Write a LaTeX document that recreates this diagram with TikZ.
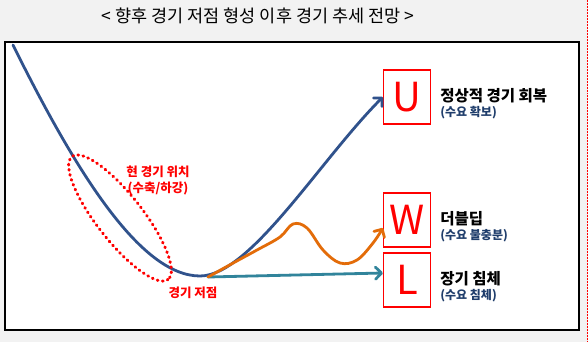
\documentclass[tikz,border=0pt]{standalone}
\usepackage{fontspec}
\setmainfont{Noto Sans CJK KR}
\usepackage{tikz}
\usetikzlibrary{arrows.meta,positioning,calc}
\definecolor{bggray}{HTML}{F2F2F2}
\definecolor{curveblue}{HTML}{30528C}
\definecolor{curveorange}{HTML}{E36C09}
\definecolor{curveteal}{HTML}{31849B}
\definecolor{subblue}{HTML}{1F3D6B}

\begin{document}
\begin{tikzpicture}[x=1pt,y=-1pt,
  letterbox/.style={draw=red,line width=1.2pt,minimum width=47pt,minimum height=54pt,
                    inner sep=0pt,text=red,font=\fontsize{40}{40}\selectfont},
  mainlbl/.style={font=\fontsize{15.5}{17}\selectfont\bfseries,anchor=west,inner sep=0pt},
  sublbl/.style={font=\fontsize{12}{14}\selectfont\bfseries,text=subblue,anchor=north west,inner sep=0pt},
  redlbl/.style={font=\fontsize{12.5}{16}\selectfont\bfseries,text=red,align=center,inner sep=0pt},
  trend/.style={line width=2.8pt,line cap=round,-{Straight Barb[length=6pt,width=12pt,round]}},
  dotring/.style={red,line width=3pt,line cap=round,dash pattern=on 0.8pt off 4.4pt}]

  \fill[bggray] (0,0) rectangle (588,342);
  \useasboundingbox (0,0) rectangle (588,342);
  \draw[red,densely dotted,line width=0.5pt] (587,0) -- (587,342);
  \draw[fill=white,line width=1.2pt] (5,42) rectangle (579,330);
  \node[font=\fontsize{17.5}{20}\selectfont] (title) at (258,16) {< 향후 경기 저점 형성 이후 경기 추세 전망 >};

  % scenario boxes and their labels
  \foreach \nm/\y/\lab/\sub in {U/97/{정상적 경기 회복}/{(수요 확보)},
                                W/220/{더블딥}/{(수요 불충분)},
                                L/280/{장기 침체}/{(수요 침체)}}{
    \node[letterbox] (box\nm) at (407,\y) {\nm};
    \node[mainlbl] (lbl\nm) at ($(box\nm.east)+(9,-1.5)$) {\lab};
    \node[sublbl] (sub\nm) at ($(lbl\nm.south west)+(0,3.5)$) {\sub};
  }

  \coordinate (topstart) at (13,45);
  \coordinate (trough) at (208,277);
  \coordinate (wtip) at ($(boxW.west)+(0,8)$);
  \coordinate (ltip) at ($(boxL.west)+(0,-7)$);

  \draw[trend,curveblue] (topstart) .. controls (75,170) and (140,276) .. (200,276)
       .. controls (250,276) and (320,160) .. (boxU.west);
  \draw[trend,curveteal] (trough) -- (ltip);
  \draw[trend,curveorange] plot[smooth,tension=0.6] coordinates {(trough) (235,262) (257,250)
       (280,237) (293,224) (307,228) (323,250) (340,263) (357,260) (373,243) (wtip)};

  \draw[dotring] (120,218) ellipse [x radius=78,y radius=23,rotate=-52];
  \node[redlbl] (poslbl) at (158,180) {현 경기 위치\\(수축/하강)};
  \node[redlbl] (troughlbl) at (193,293) {경기 저점};
\end{tikzpicture}
\end{document}
